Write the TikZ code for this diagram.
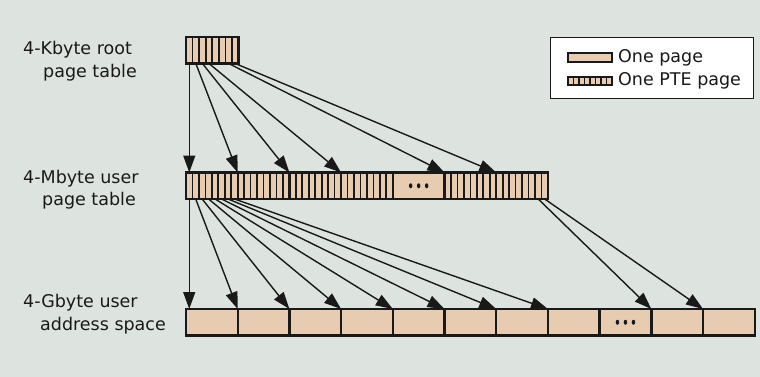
\documentclass[tikz,border=0pt]{standalone}
\usepackage{fontspec}
\setmainfont{DejaVu Sans}
\usetikzlibrary{arrows.meta,calc}
\definecolor{bgc}{RGB}{221,228,224}
\definecolor{peach}{RGB}{232,204,178}
\definecolor{ink}{RGB}{25,25,25}
\tikzset{
  x=1pt,y=-1pt,
  cell/.style={draw=ink,line width=2.4pt,fill=peach,inner sep=0pt,outer sep=0pt,
    minimum width=51.7pt,minimum height=26.5pt,anchor=north west},
  ptecell/.style={cell,path picture={
    \foreach \k in {1,...,7}{
      \draw[ink,line width=1.7pt]
        ($(path picture bounding box.south west)!\k/8!(path picture bounding box.south east)$) --
        ($(path picture bounding box.north west)!\k/8!(path picture bounding box.north east)$);}}},
  ptr/.style={draw=ink,line width=1.4pt,-{Triangle[length=17pt,width=12pt]}},
  lab/.style={anchor=base west,inner sep=0pt,font=\fontsize{17.5}{20}\selectfont,text=ink},
  dot/.style={ellipse,fill=ink,inner sep=0pt,minimum width=3.5pt,minimum height=5pt}
}
\usetikzlibrary{shapes.geometric}
\begin{document}
\begin{tikzpicture}
\fill[bgc] (0,0) rectangle (760,377);
\useasboundingbox (0,0) rectangle (760,377);

% labels
\node[lab] (l1a) at (23,55) {4-Kbyte root};
\node[lab] (l1b) at (43,78) {page table};
\node[lab] (l2a) at (23,183) {4-Mbyte user};
\node[lab] (l2b) at (42,205) {page table};
\node[lab] (l3a) at (23,307) {4-Gbyte user};
\node[lab] (l3b) at (40,330) {address space};

% root table
\node[ptecell,minimum width=52.5pt] (r) at (186,37) {};

% user page table
\foreach \i in {1,...,7}{
  \pgfmathsetmacro{\xx}{186+(\i-1)*51.7}
  \ifnum\i=5
    \node[cell] (m\i) at (\xx,172.5) {};
  \else
    \node[ptecell] (m\i) at (\xx,172.5) {};
  \fi
}
\node[dot] (md2) at (m5.center) {};
\node[dot] (md1) at ($(m5.center)+(-8,0)$) {};
\node[dot] (md3) at ($(m5.center)+(8,0)$) {};

% address space
\foreach \i in {1,...,11}{
  \pgfmathsetmacro{\xx}{186+(\i-1)*51.7}
  \node[cell] (b\i) at (\xx,309) {};
}
\node[dot] (bd2) at (b9.center) {};
\node[dot] (bd1) at ($(b9.center)+(-8,0)$) {};
\node[dot] (bd3) at ($(b9.center)+(8,0)$) {};

% stripe origins
\foreach \k in {1,...,8}{
  \coordinate (rs\k) at ($(r.south west)!{(\k-0.5)/8}!(r.south east)$);
  \coordinate (ms\k) at ($(m1.south west)!{(\k-0.5)/8}!(m1.south east)$);
  \coordinate (ns\k) at ($(m7.south west)!{(\k-0.5)/8}!(m7.south east)$);
}

% root -> user page table
\draw[ptr] (rs1) -- (rs1 |- m1.north);
\draw[ptr] (rs2) -- (m2.north west);
\draw[ptr] (rs3) -- (m3.north west);
\draw[ptr] (rs4) -- (m4.north west);
\draw[ptr] (rs7) -- (m6.north west);
\draw[ptr] (rs8) -- (m7.north west);

% user page table -> address space
\draw[ptr] (ms1) -- (ms1 |- b1.north);
\foreach \k in {2,...,8}{
  \draw[ptr] (ms\k) -- (b\k.north west);
}
\draw[ptr] (ns7) -- (b10.north west);
\draw[ptr] (ns8) -- (b11.north west);

% legend
\node[draw=ink,line width=1pt,fill=white,minimum width=203pt,minimum height=61pt,anchor=north west,inner sep=0pt] (leg) at (550,37) {};
\node[cell,line width=2pt,minimum width=44pt,minimum height=9pt] (sw1) at (568,53) {};
\node[ptecell,line width=2pt,minimum width=44pt,minimum height=8.5pt] (sw2) at (568,77) {};
\node[lab] (t1) at (618,63) {One page};
\node[lab] (t2) at (618,86) {One PTE page};
\end{tikzpicture}
\end{document}
